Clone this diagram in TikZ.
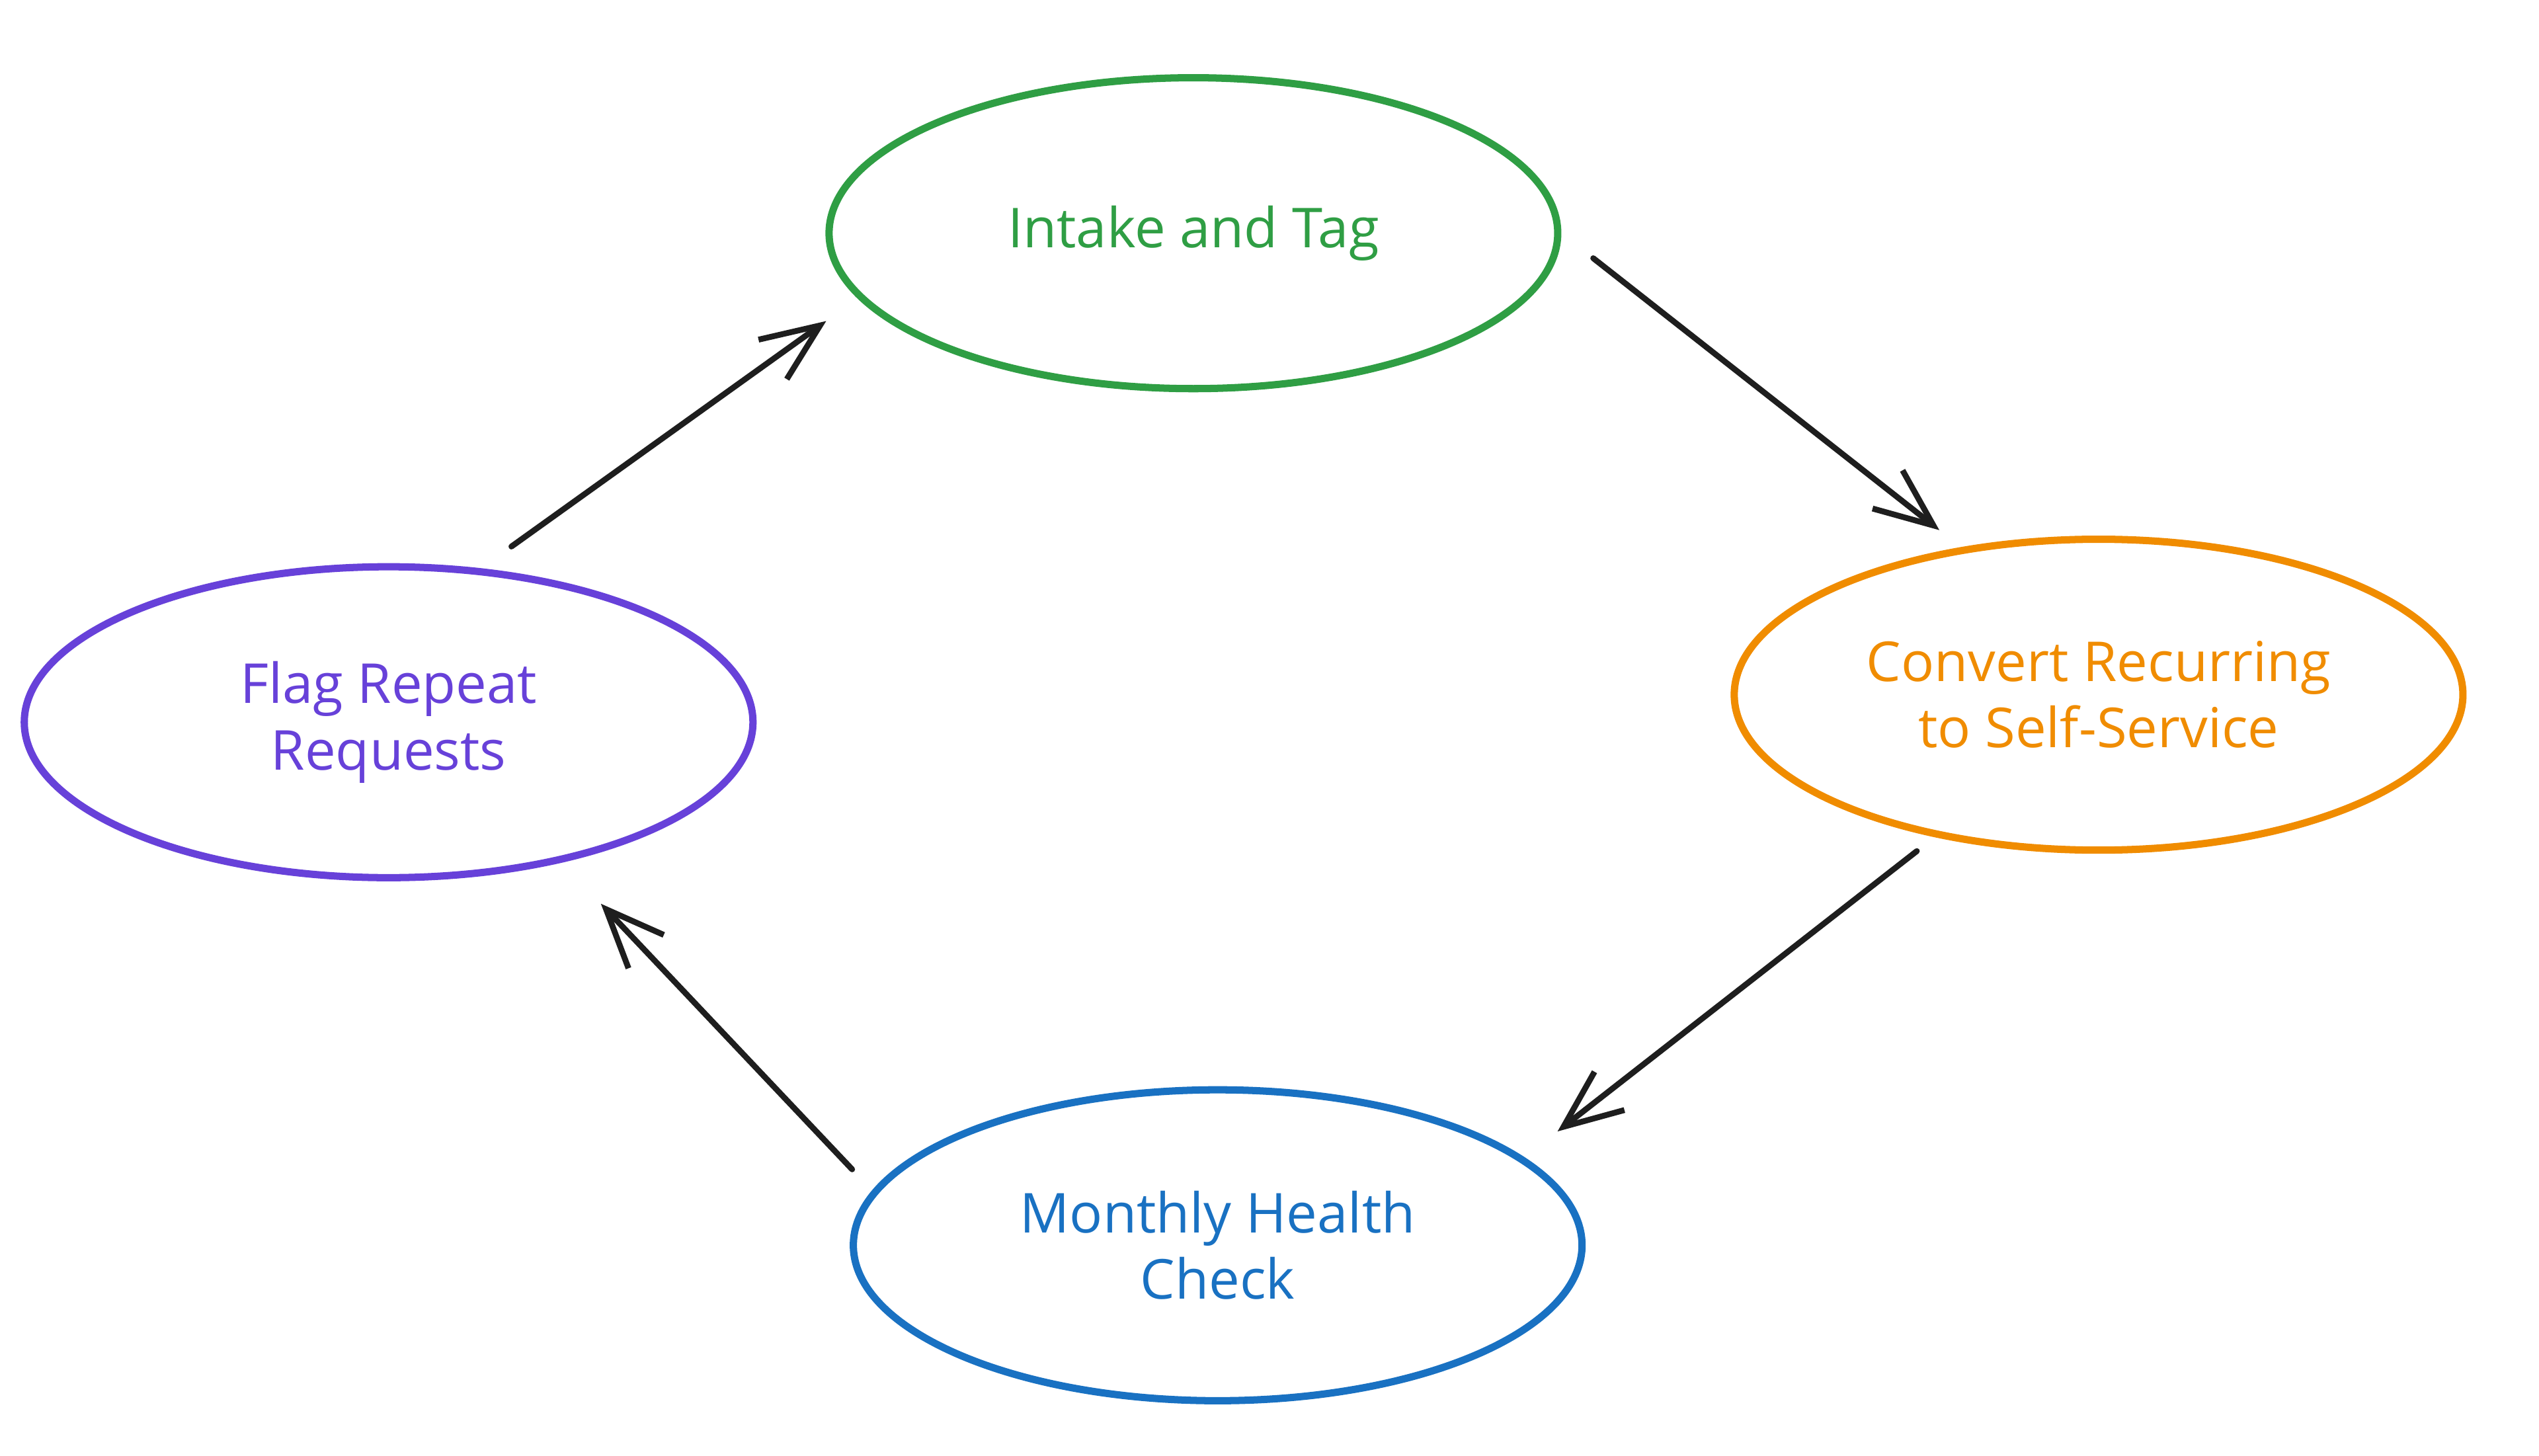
\documentclass[tikz,border=0pt]{standalone}
\usepackage{fontspec}
\setmainfont{Open Sans}
\usetikzlibrary{shapes.geometric,arrows.meta}

\begin{document}
\begin{tikzpicture}[x=1pt,y=1pt,yscale=-1,xscale=1,
  phase/.style={ellipse,draw,line width=4.5,minimum width=450,minimum height=192,inner sep=0,align=center,font=\fontsize{34}{41}\selectfont},
  greenph/.style={color={rgb, 255:red, 47; green, 158; blue, 68 }},
  orangeph/.style={color={rgb, 255:red, 240; green, 140; blue, 0 }},
  blueph/.style={color={rgb, 255:red, 25; green, 113; blue, 194 }},
  purpleph/.style={color={rgb, 255:red, 103; green, 65; blue, 217 }},
  flow/.style={draw={rgb, 255:red, 30; green, 30; blue, 30 },line width=3.6,line cap=round,-{Straight Barb[length=36pt,width=30pt]}}
]
\useasboundingbox (0,0) rectangle (1568,899);

%Shape: Ellipse [intake]
\node[phase,greenph] (intake) at (737,144) {Intake and Tag};
%Shape: Ellipse [convert]
\node[phase,orangeph] (convert) at (1296,429) {Convert Recurring\\to Self-Service};
%Shape: Ellipse [health]
\node[phase,blueph] (health) at (752,769) {Monthly Health\\Check};
%Shape: Ellipse [flag]
\node[phase,purpleph] (flag) at (240,446) {Flag Repeat\\Requests};

%Straight Lines [flag -> intake]
\draw[flow,shorten <=23,shorten >=24] (flag.59) -- (intake.191);
%Straight Lines [intake -> convert]
\draw[flow,shorten <=25,shorten >=17] (intake.0) -- (convert.133);
%Straight Lines [convert -> health]
\draw[flow,shorten <=14,shorten >=26] (convert.221) -- (health.16);
%Straight Lines [health -> flag]
\draw[flow,shorten <=18,shorten >=35] (health.171) -- (flag.321);

\end{tikzpicture}
\end{document}
